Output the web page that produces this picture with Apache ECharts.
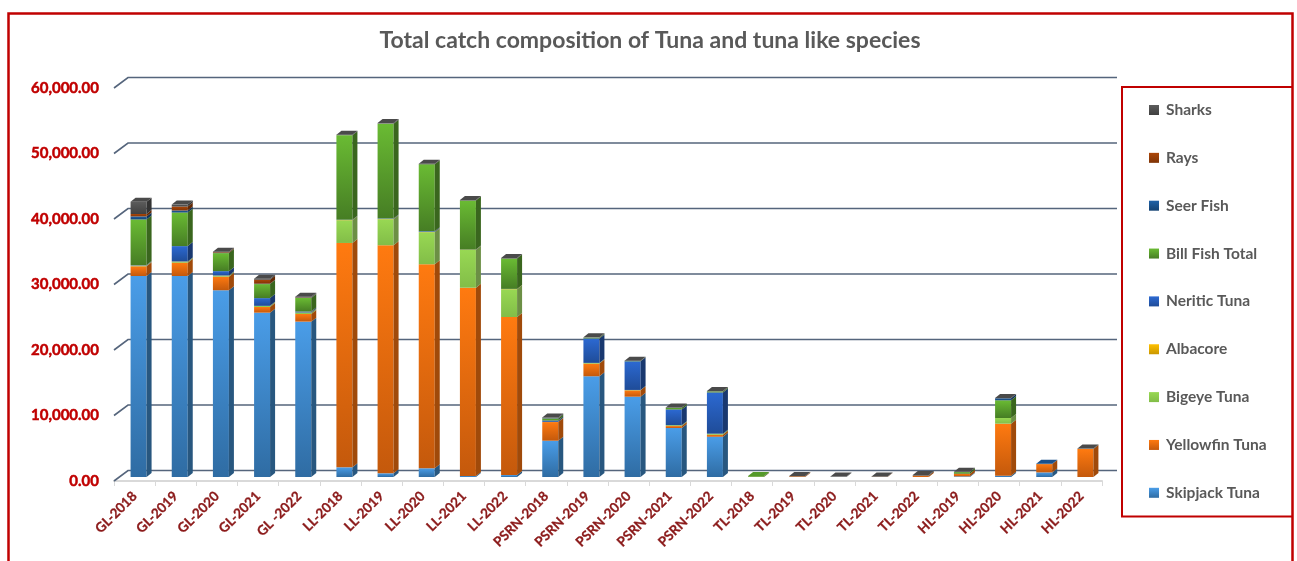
<!DOCTYPE html>
<html><head><meta charset="utf-8">
<style>html,body{margin:0;padding:0;background:#fff}#c{width:1297px;height:561px}</style>
<script src="https://cdn.jsdelivr.net/npm/echarts@6/dist/echarts.min.js"></script>
</head><body><div id="c"></div>
<script>
const categories = ['GL-2018','GL-2019','GL-2020','GL-2021','GL -2022','LL-2018','LL-2019','LL-2020','LL-2021','LL-2022','PSRN-2018','PSRN-2019','PSRN-2020','PSRN-2021','PSRN-2022','TL-2018','TL-2019','TL-2020','TL-2021','TL-2022','HL-2019','HL-2020','HL-2021','HL-2022'];
const yTicks = [0,10000,20000,30000,40000,50000,60000];
const skipjack  = [30690,30690,28510,25090,23720,1480,565,1330,150,300,5540,15380,12260,7480,6150,0,0,0,0,0,100,200,700,0];
const yellowfin = [1480,2030,2080,870,1170,34250,34815,31150,28750,24130,2850,1930,970,300,300,20,100,0,30,200,400,7940,1270,4280];
const bigeye    = [100,150,150,150,200,3470,3970,4890,5760,4230,20,100,50,120,150,0,0,0,0,0,0,870,0,0];
const albacore  = [30,30,20,20,20,40,40,40,40,40,10,10,10,10,10,0,0,0,0,0,0,0,0,0];
const neritic   = [60,2350,670,1180,150,20,60,100,20,20,200,3730,4370,2400,6300,0,0,0,0,0,0,0,0,0];
const billfish  = [6960,5130,2750,2140,2080,12930,14500,10230,7480,4630,300,120,50,250,150,120,0,0,0,0,250,2700,0,0];
const seerfish  = [460,305,20,60,20,0,0,0,0,0,50,0,0,0,0,0,0,0,0,0,0,300,50,0];
const rays      = [370,610,100,610,50,0,0,0,0,0,0,0,0,0,0,0,0,0,0,0,0,0,0,0];
const sharks    = [1880,300,100,150,120,80,80,80,80,80,120,50,50,60,60,0,60,60,60,100,60,60,0,60];
const speciesNames = ['Skipjack Tuna','Yellowfin Tuna','Bigeye Tuna','Albacore','Neritic Tuna','Bill Fish Total','Seer Fish','Rays','Sharks'];
const speciesValues = [skipjack,yellowfin,bigeye,albacore,neritic,billfish,seerfish,rays,sharks];
const palette = [
 {hi:'#4a9de8',lo:'#2f6ca3',side:'#28577f',cap:'#3b80bf'},
 {hi:'#ff7a10',lo:'#c4590c',side:'#a04a0a',cap:'#d9660e'},
 {hi:'#98d853',lo:'#82bd48',side:'#6c8f45',cap:'#86bd4a'},
 {hi:'#ffc000',lo:'#c99700',side:'#8f6d00',cap:'#d9a400'},
 {hi:'#2c69d2',lo:'#1f4c98',side:'#19386f',cap:'#2558b0'},
 {hi:'#6abb33',lo:'#467d24',side:'#3a661e',cap:'#55992a'},
 {hi:'#1f62a8',lo:'#144272',side:'#0f3258',cap:'#1a508a'},
 {hi:'#ac4608',lo:'#7f3406',side:'#642904',cap:'#8f3a06'},
 {hi:'#5c5c5c',lo:'#404040',side:'#333333',cap:'#4a4a4a'}
];
const grad = (a,b)=>({type:'linear',x:0,y:0,x2:0,y2:1,colorStops:[{offset:0,color:a},{offset:1,color:b}]});
const DX=4, HW=8, DEPTH=4, SIDE=5;
function barRenderer(pal){
  return function(params,api){
    const i=api.value(0), p0=api.coord([i,api.value(1)]), p1=api.coord([i,api.value(2)]), isTop=api.value(3);
    const cx=p0[0]+DX, yb=p0[1]-DEPTH, yt=p1[1]-DEPTH, l=cx-HW, r=cx+HW;
    const kids=[
      {type:'polygon',shape:{points:[[l,yt],[r,yt],[r,yb],[l,yb]]},style:{fill:grad(pal.hi,pal.lo)}},
      {type:'polygon',shape:{points:[[r,yb],[r+SIDE,yb-DEPTH],[r+SIDE,yt-DEPTH],[r,yt]]},style:{fill:pal.side}}
    ];
    if(isTop) kids.push({type:'polygon',shape:{points:[[l,yt],[r,yt],[r+SIDE,yt-DEPTH],[l+SIDE,yt-DEPTH]]},style:{fill:pal.cap}});
    return {type:'group',silent:true,children:kids};
  };
}
const running = categories.map(()=>0);
const topIndex = categories.map((_,c)=>{let t=-1;speciesValues.forEach((v,s)=>{if(v[c]>0)t=s});return t});
const barSeries = speciesNames.map((name,s)=>{
  const data=[];
  speciesValues[s].forEach((v,c)=>{
    if(v>0) data.push([c,running[c],running[c]+v,topIndex[c]===s?1:0]);
    running[c]+=v;
  });
  return {name,type:'custom',coordinateSystem:'cartesian2d',clip:false,z:3+s,
    encode:{x:0,y:[1,2]},data,renderItem:barRenderer(palette[s]),
    itemStyle:{color:grad(palette[s].hi,palette[s].lo)},silent:true};
});
const wall = {name:'wall',type:'custom',coordinateSystem:'cartesian2d',clip:false,z:1,silent:true,
  encode:{y:0},data:yTicks.map(v=>[v]),
  renderItem(params,api){
    const y=api.coord([0,api.value(0)])[1], x0=params.coordSys.x, x1=x0+params.coordSys.width;
    return {type:'polyline',shape:{points:[[x0,y],[x0+14,y-10.5],[x1+15,y-10.5]]},
      style:{fill:null,stroke:'#55657c',lineWidth:1.6}};
  }};
const legendOrder = speciesNames.slice().reverse();
const chart = echarts.init(document.getElementById('c'),null,{renderer:'canvas'});
const RED='#c00000';
chart.setOption({
  animation:false,
  backgroundColor:'#fff',
  title:{text:'Total catch composition of Tuna and tuna like species',left:645,top:24,textAlign:'center',
    textStyle:{fontFamily:'Lato',fontWeight:'bold',fontSize:23,color:'#595959'}},
  grid:{left:114,right:195,top:88,bottom:80},
  xAxis:{type:'category',data:categories,
    axisLine:{lineStyle:{color:'#d9d9d9',width:2}},
    axisTick:{show:true,length:5,lineStyle:{color:'#d9d9d9',width:1}},
    axisLabel:{interval:0,rotate:45,margin:13,fontFamily:'Lato',fontWeight:'bold',fontSize:13.5,color:'#8b1a1a',
      textBorderColor:'#8b1a1a',textBorderWidth:0.3}},
  yAxis:{type:'value',min:0,max:60000,interval:10000,
    axisLine:{show:false},axisTick:{show:false},splitLine:{show:false},
    axisLabel:{margin:15,fontFamily:'Lato',fontWeight:'bold',fontSize:15,color:RED,padding:[6,0,0,0],
      textBorderColor:RED,textBorderWidth:0.5,
      formatter:v=>v.toLocaleString('en-US',{minimumFractionDigits:2,maximumFractionDigits:2})}},
  legend:{show:true,orient:'vertical',left:1144,top:96,itemWidth:10,itemHeight:10,itemGap:29.85,
    icon:'rect',data:legendOrder,selectedMode:false,
    textStyle:{fontFamily:'Lato',fontWeight:'bold',fontSize:15.5,lineHeight:18,color:'#595959',padding:[0,0,0,2]}},
  graphic:[
    {type:'polyline',z:20,shape:{points:[[8.5,561],[8.5,13.5],[1292.5,13.5],[1292.5,561]]},style:{fill:null,stroke:RED,lineWidth:2.5}},
    {type:'polyline',z:20,shape:{points:[[1292,87],[1122,87],[1122,516.5],[1292,516.5]]},style:{fill:null,stroke:RED,lineWidth:2}}
  ],
  series:[wall].concat(barSeries)
});
</script></body></html>
